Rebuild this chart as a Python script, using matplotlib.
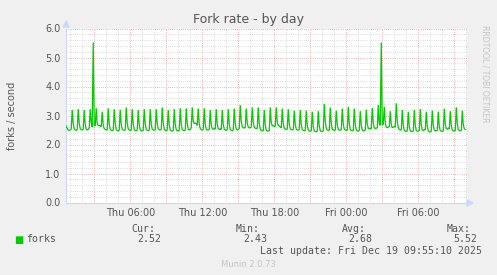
import matplotlib
matplotlib.use("Agg")
import matplotlib.pyplot as plt
import numpy as np

# ---- data (5-minute samples, hours since Thu 00:00) ----
start_hour = 0.6667
step_hours = 5.0 / 60.0
forks = [
    2.62, 2.56, 2.50, 2.49, 2.50, 2.53,
    3.19, 2.72, 2.54, 2.50, 2.49, 2.52,
    3.22, 2.74, 2.55, 2.51, 2.50, 2.53,
    3.19, 2.70, 2.53, 2.50, 2.52, 2.56,
    3.22, 2.76, 2.60, 5.52, 2.68, 2.64,
    3.25, 2.72, 2.66, 2.65, 2.64, 2.62,
    3.13, 2.66, 2.55, 2.52, 2.50, 2.50,
    3.25, 2.70, 2.53, 2.49, 2.48, 2.50,
    3.22, 2.72, 2.52, 2.48, 2.47, 2.50,
    3.20, 2.70, 2.53, 2.50, 2.49, 2.51,
    3.28, 2.74, 2.54, 2.50, 2.49, 2.50,
    3.22, 2.70, 2.52, 2.48, 2.48, 2.50,
    3.19, 2.68, 2.51, 2.47, 2.47, 2.49,
    3.22, 2.71, 2.52, 2.49, 2.48, 2.50,
    3.22, 2.70, 2.53, 2.50, 2.49, 2.51,
    3.22, 2.72, 2.54, 2.51, 2.50, 2.52,
    3.28, 2.74, 2.53, 2.49, 2.48, 2.50,
    3.19, 2.68, 2.50, 2.47, 2.46, 2.48,
    3.22, 2.70, 2.51, 2.48, 2.47, 2.49,
    3.25, 2.70, 2.52, 2.49, 2.48, 2.50,
    3.25, 2.72, 2.53, 2.50, 2.52, 2.58,
    3.28, 2.80, 2.72, 2.74, 2.72, 2.66,
    3.24, 2.72, 2.55, 2.51, 2.50, 2.52,
    3.25, 2.70, 2.53, 2.50, 2.50, 2.52,
    3.19, 2.68, 2.54, 2.53, 2.55, 2.53,
    3.22, 2.70, 2.55, 2.52, 2.54, 2.52,
    3.19, 2.69, 2.53, 2.50, 2.49, 2.51,
    3.22, 2.70, 2.52, 2.49, 2.48, 2.50,
    3.24, 2.72, 2.53, 2.50, 2.52, 2.55,
    3.36, 2.80, 2.62, 2.58, 2.57, 2.58,
    3.24, 2.74, 2.60, 2.57, 2.58, 2.60,
    3.28, 2.76, 2.60, 2.56, 2.55, 2.56,
    3.28, 2.72, 2.53, 2.48, 2.47, 2.48,
    3.19, 2.68, 2.50, 2.47, 2.46, 2.48,
    3.28, 2.76, 2.64, 2.66, 2.62, 2.64,
    3.28, 2.78, 2.66, 2.64, 2.60, 2.58,
    3.24, 2.72, 2.56, 2.53, 2.52, 2.53,
    3.22, 2.70, 2.54, 2.51, 2.50, 2.52,
    3.17, 2.68, 2.53, 2.50, 2.50, 2.51,
    3.19, 2.68, 2.52, 2.49, 2.48, 2.49,
    3.17, 2.66, 2.50, 2.47, 2.46, 2.47,
    3.13, 2.62, 2.47, 2.45, 2.44, 2.46,
    3.15, 2.64, 2.48, 2.45, 2.45, 2.47,
    3.40, 2.80, 2.56, 2.50, 2.49, 2.50,
    3.28, 2.72, 2.53, 2.50, 2.49, 2.50,
    3.17, 2.68, 2.52, 2.49, 2.50, 2.51,
    3.24, 2.70, 2.53, 2.50, 2.49, 2.50,
    3.30, 2.72, 2.52, 2.48, 2.47, 2.48,
    3.24, 2.70, 2.50, 2.47, 2.46, 2.48,
    3.15, 2.66, 2.50, 2.47, 2.48, 2.50,
    3.20, 2.70, 2.56, 2.54, 2.55, 2.56,
    3.26, 2.74, 2.58, 2.55, 2.56, 2.58,
    3.36, 2.72, 2.66, 5.52, 2.68, 2.70,
    3.30, 2.74, 2.60, 2.58, 2.60, 2.62,
    3.15, 2.68, 2.58, 2.60, 2.62, 2.60,
    3.42, 2.80, 2.58, 2.52, 2.50, 2.50,
    3.19, 2.66, 2.49, 2.46, 2.45, 2.47,
    3.13, 2.62, 2.47, 2.45, 2.45, 2.47,
    3.19, 2.66, 2.48, 2.46, 2.46, 2.48,
    3.22, 2.68, 2.50, 2.48, 2.52, 2.50,
    3.13, 2.62, 2.47, 2.44, 2.43, 2.46,
    3.17, 2.66, 2.50, 2.48, 2.47, 2.49,
    3.13, 2.62, 2.48, 2.46, 2.45, 2.47,
    3.24, 2.70, 2.55, 2.53, 2.56, 2.54,
    3.15, 2.66, 2.50, 2.47, 2.46, 2.48,
    3.28, 2.72, 2.52, 2.48, 2.47, 2.49,
    3.17, 2.68, 2.55, 2.52,
]
tick_hours = [6, 12, 18, 24, 30]
tick_labels = ["Thu 06:00", "Thu 12:00", "Thu 18:00", "Fri 00:00", "Fri 06:00"]
yticks = [0.0, 1.0, 2.0, 3.0, 4.0, 5.0, 6.0]
stat_names = ["Cur:", "Min:", "Avg:", "Max:"]
stat_values = ["2.52", "2.43", "2.68", "5.52"]

hours = start_hour + step_hours * np.arange(len(forks))

W, H = 497, 275
BG = "#F0F0F0"
FONT = "#555555"
AXIS = "#CFD6F8"
MGRID = "#E8A0A0"
GRID = "#D2D2D2"
GREEN = "#00CC00"

fig = plt.figure(figsize=(W / 100, H / 100), dpi=100, facecolor=BG)

x0, x1 = 66, 467
ytop, ybot = 28.5, 202.5
ax = fig.add_axes([x0 / W, 1 - ybot / H, (x1 - x0) / W, (ybot - ytop) / H])
ax.set_facecolor("white")
ax.set_xlim(0.65, 34.06)
ax.set_ylim(0, 6)

dots = (0, (0.72, 1.44))
for h in np.arange(1, 35, 1):
    if h % 3 != 0:
        ax.axvline(h, color=GRID, lw=0.72, ls=dots, zorder=1)
for v in np.arange(0.2, 6.01, 0.2):
    if abs(v - round(v)) > 1e-6:
        ax.axhline(v, color=GRID, lw=0.72, ls=dots, zorder=1)
for h in np.arange(3, 35, 3):
    ax.axvline(h, color=MGRID, lw=0.72, ls=dots, zorder=1.5)
for v in range(1, 7):
    ax.axhline(v, color=MGRID, lw=0.72, ls=dots, zorder=1.5)

ax.plot(hours, forks, color=GREEN, lw=0.9, zorder=3, solid_joinstyle="miter")

for s in ["top", "right"]:
    ax.spines[s].set_visible(False)
for s in ["left", "bottom"]:
    ax.spines[s].set_color(AXIS)
    ax.spines[s].set_linewidth(0.8)

ax.set_xticks(tick_hours)
ax.set_xticklabels(tick_labels)
ax.set_yticks(yticks)
ax.set_yticklabels([f"{v:.1f}" for v in yticks])
ax.tick_params(axis="both", length=0, labelsize=7, colors=FONT, pad=4)
ax.tick_params(axis="x", pad=4)

# arrows
fig.patches.append(plt.Polygon([[66 / W - 3 / W, 1 - 27 / H], [66 / W + 3 / W, 1 - 27 / H], [66.5 / W, 1 - 21 / H]],
                               closed=True, transform=fig.transFigure, color=AXIS, zorder=5))
fig.patches.append(plt.Polygon([[467 / W, 1 - 200 / H], [467 / W, 1 - 206 / H], [473 / W, 1 - 203 / H]],
                               closed=True, transform=fig.transFigure, color=AXIS, zorder=5))
fig.add_artist(plt.Line2D([x1 / W, 468 / W], [1 - 203 / H, 1 - 203 / H], color=AXIS, lw=0.8))

fig.text(249 / W, 1 - 19 / H, "Fork rate - by day", ha="center", va="center", fontsize=9, color=FONT)
fig.text(12 / W, 1 - 116 / H, "forks / second", ha="center", va="center", rotation=90, fontsize=7, color=FONT)
fig.text(485 / W, 1 - 25 / H, "RRDTOOL / TOBI OETIKER", ha="center", va="top", rotation=270,
         fontsize=5.5, color="#C4C4C4")

mono = "DejaVu Sans Mono"
fs = 7.1
fig.text(14 / W, 1 - 239.5 / H, "\u25A0", ha="left", va="center", fontsize=7, color=GREEN, family="DejaVu Sans")
fig.text(26.5 / W, 1 - 239.5 / H, "forks", ha="left", va="center", fontsize=fs, family=mono, color=FONT)
name_right = [155, 260, 366, 471]
val_right = [161, 267, 372, 477]
for n, v, nr, vr in zip(stat_names, stat_values, name_right, val_right):
    fig.text(nr / W, 1 - 228.5 / H, n, ha="right", va="center", fontsize=fs, family=mono, color=FONT)
    fig.text(vr / W, 1 - 239.5 / H, v, ha="right", va="center", fontsize=fs, family=mono, color=FONT)
fig.text(482.5 / W, 1 - 251.5 / H, "Last update: Fri Dec 19 09:55:10 2025", ha="right", va="center",
         fontsize=fs, family=mono, color=FONT)
fig.text(248 / W, 1 - 264.5 / H, "Munin 2.0.73", ha="center", va="center", fontsize=6, color="#C4C4C4")

fig.savefig("out.png", dpi=100, facecolor=BG)
